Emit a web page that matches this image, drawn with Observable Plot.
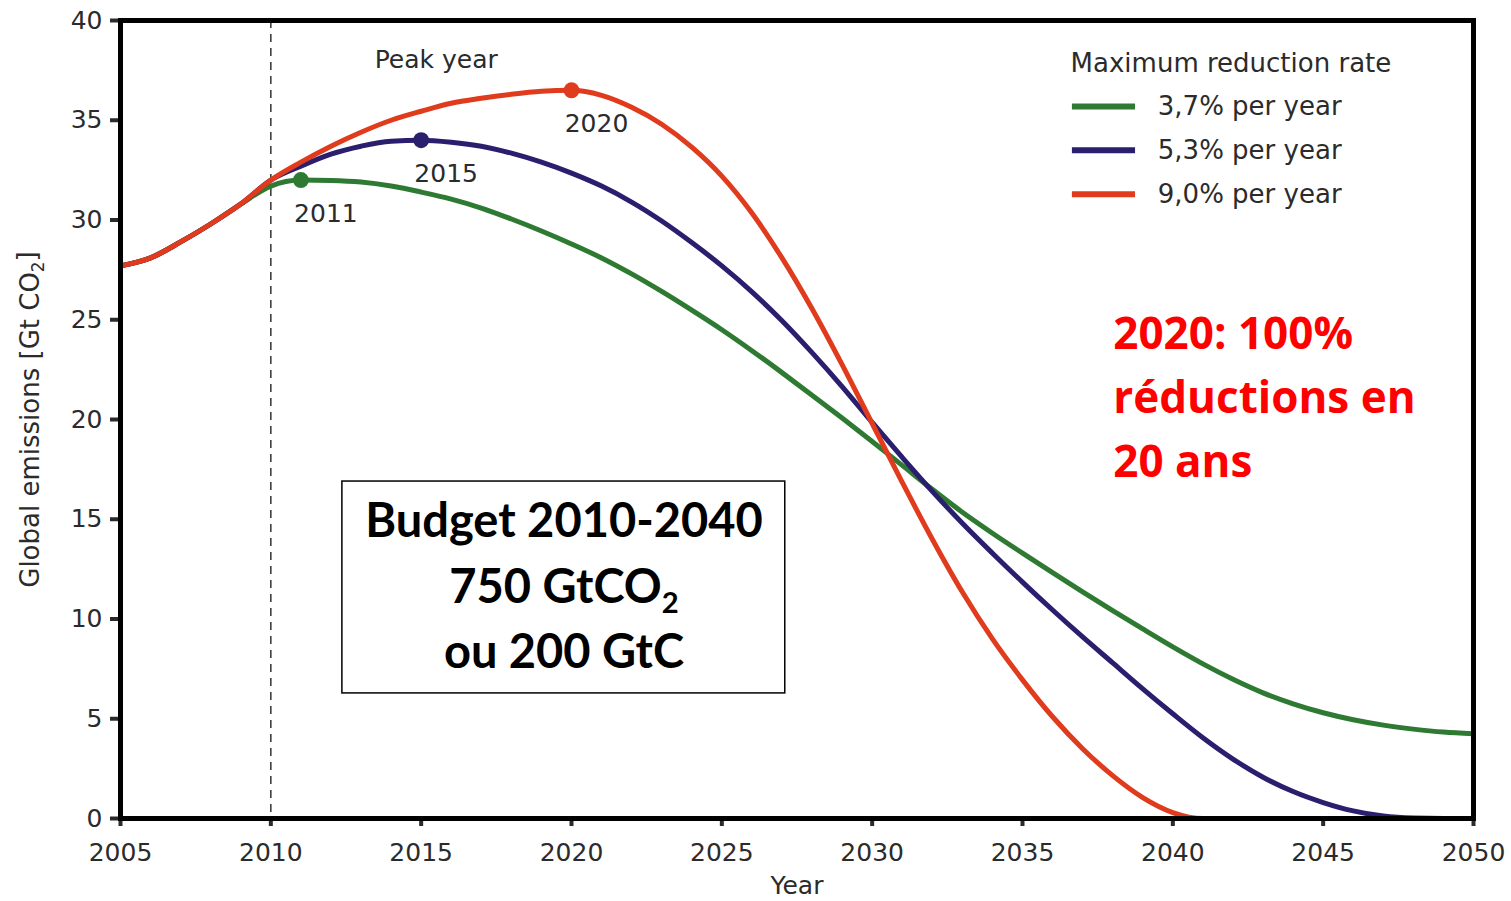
<!DOCTYPE html>
<html>
<head>
<meta charset="utf-8">
<script src="https://cdn.jsdelivr.net/npm/d3@7"></script>
<script src="https://cdn.jsdelivr.net/npm/@observablehq/plot@0.6"></script>
<style>
  html, body { margin: 0; padding: 0; background: white; }
  #chart svg { display: block; }
</style>
</head>
<body>
<div id="chart"></div>
<script>
// ---- Data ----
const years = [2005,2006,2007,2008,2009,2010,2011,2012,2013,2014,2015,2016,2017,2018,2019,2020,
  2021,2022,2023,2024,2025,2026,2027,2028,2029,2030,2031,2032,2033,2034,2035,2036,2037,2038,2039,2040,
  2041,2042,2043,2044,2045,2046,2047,2048,2049,2050];

const seriesNames = ["3,7% per year", "5,3% per year", "9,0% per year"];
const seriesColors = ["#2f7a33", "#2a1e6e", "#e03b1c"];

const green = [27.7,28.1,28.9,29.8,30.8,31.7,32.0,31.98,31.9,31.7,31.4,31.05,30.6,30.05,29.45,28.8,
  28.1,27.3,26.42,25.48,24.5,23.45,22.35,21.22,20.07,18.9,17.7,16.5,15.35,14.3,13.3,12.32,11.36,10.42,9.5,8.6,
  7.75,6.98,6.3,5.75,5.3,4.95,4.68,4.48,4.33,4.25];
const purple = [27.7,28.1,28.9,29.8,30.8,32.0,32.7,33.3,33.7,33.95,34.0,33.9,33.7,33.35,32.9,32.35,
  31.7,30.9,29.95,28.87,27.7,26.4,24.95,23.35,21.65,19.85,18.1,16.4,14.8,13.3,11.85,10.45,9.1,7.8,6.5,5.25,
  4.05,2.98,2.07,1.35,0.8,0.38,0.12,0.02,0,0];
const red = [27.7,28.1,28.9,29.8,30.8,32.0,32.9,33.7,34.4,35.0,35.45,35.85,36.1,36.3,36.45,36.5,
  36.25,35.65,34.8,33.65,32.2,30.35,28.1,25.55,22.75,19.8,16.85,14.0,11.35,9.0,6.95,5.1,3.5,2.15,1.05,0.3,
  0,0,0,0,0,0,0,0,0,0];

const peakYears = [2011, 2015, 2020];
const xTicks = [2005,2010,2015,2020,2025,2030,2035,2040,2045,2050];
const yTicks = [0,5,10,15,20,25,30,35,40];

// ---- Build tables ----
const valuesBySeries = [green, purple, red];
const rows = [];
valuesBySeries.forEach((vals, i) => vals.forEach((v, j) => rows.push({series: seriesNames[i], year: years[j], value: v})));
const peaks = peakYears.map((y, i) => ({series: seriesNames[i], year: y, value: valuesBySeries[i][years.indexOf(y)]}));
const legendRows = seriesNames.map((s, i) => ({series: s, ly: 35.69 - i * 2.2}));

const sans = "'DejaVu Sans', Verdana, sans-serif";
const bold = "Lato, 'Open Sans', sans-serif";
const boldRed = "'Open Sans', Lato, sans-serif";
const textGray = "#2b2b2b";

const chart = Plot.plot({
  width: 1511,
  height: 901,
  marginLeft: 120,
  marginRight: 38,
  marginTop: 20,
  marginBottom: 83,
  x: {domain: [2005, 2050], label: null},
  y: {domain: [0, 40], label: null},
  color: {domain: seriesNames, range: seriesColors},
  style: {fontFamily: sans, background: "white", color: textGray},
  marks: [
    Plot.ruleX([2010], {stroke: "#333", strokeWidth: 1.5, strokeDasharray: "8,6"}),
    Plot.line(rows, {x: "year", y: "value", z: "series", stroke: "series", strokeWidth: 5, curve: "monotone-x", clip: true}),
    Plot.dot(peaks, {x: "year", y: "value", fill: "series", r: 8}),
    Plot.text(peaks, {x: "year", y: "value", text: d => String(d.year), dx: 25, dy: 34, fontSize: 25, fill: textGray}),
    Plot.text(["Peak year"], {x: () => 2015.5, y: () => 38.0, text: d => d, fontSize: 25, fill: textGray}),
    // legend
    Plot.text(["Maximum reduction rate"], {x: () => 2036.6, y: () => 37.85, text: d => d, textAnchor: "start", fontSize: 26, fill: textGray}),
    Plot.ruleY(legendRows, {x1: () => 2036.66, x2: () => 2038.76, y: "ly", stroke: "series", strokeWidth: 6}),
    Plot.text(legendRows, {x: () => 2039.5, y: "ly", text: "series", textAnchor: "start", fontSize: 26, fill: textGray}),
    // box annotation
    Plot.rect([0], {x1: () => 2012.38, x2: () => 2027.11, y1: () => 6.27, y2: () => 16.89, fill: "white", stroke: "black", strokeWidth: 1.5}),
    Plot.text(["Budget 2010-2040", "750 GtCO2", "ou 200 GtC"], {x: () => 2019.75, y: (d, i) => [14.84, 11.58, 8.32][i], text: d => d, fontFamily: bold, fontWeight: "bold", fontSize: 47, fill: "black"}),
    // red annotation
    Plot.text(["2020: 100%", "réductions en", "20 ans"], {x: () => 2038.02, y: (d, i) => [24.26, 21.05, 17.84][i], text: d => d, textAnchor: "start", fontFamily: boldRed, fontWeight: "bold", fontSize: 44, fill: "#ff0000"}),
    // axes
    Plot.axisX({ticks: xTicks, tickFormat: "d", tickSize: 8, tickPadding: 17, fontSize: 25, strokeWidth: 4, label: null}),
    Plot.axisY({ticks: yTicks, tickSize: 10, tickPadding: 8, fontSize: 25, strokeWidth: 4, label: null}),
    Plot.text(["Year"], {frameAnchor: "bottom", text: d => d, lineAnchor: "middle", dy: 67, fontSize: 25, fill: textGray}),
    Plot.text(["Global emissions [Gt CO2]"], {frameAnchor: "left", text: d => d, rotate: -90, textAnchor: "middle", lineAnchor: "middle", dx: -90, fontSize: 26, fill: textGray}),
    Plot.frame({stroke: "black", strokeWidth: 5})
  ]
});

// subscripts
d3.select(chart).selectAll("text").each(function() {
  const t = this.textContent;
  if (t === "750 GtCO2") {
    const s = d3.select(this);
    s.text("750 GtCO");
    s.append("tspan").attr("font-size", "0.62em").attr("dy", "0.35em").text("2");
  } else if (t === "Global emissions [Gt CO2]") {
    const s = d3.select(this);
    s.text("Global emissions [Gt CO");
    s.append("tspan").attr("font-size", "0.65em").attr("dy", "0.3em").text("2");
    s.append("tspan").attr("dy", "-0.3em").text("]");
  }
});

document.getElementById("chart").appendChild(chart);
</script>
</body>
</html>
